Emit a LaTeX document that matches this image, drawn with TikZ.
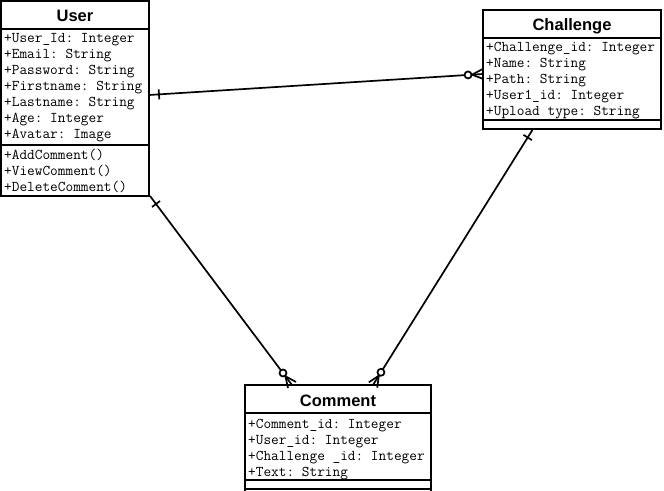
\documentclass[tikz,border=0pt]{standalone}
\usepackage{fontspec}
\newfontfamily\titlefont{Liberation Sans}
\usetikzlibrary{calc}
\frenchspacing
\newcommand\barend[2]{%
  \coordinate (tmpq) at ($(#1)!10bp!(#2)$);
  \draw[conn] ($(tmpq)!5bp!90:(#2)$) -- ($(tmpq)!5bp!-90:(#2)$);}
\newcommand\crowend[2]{%
  \coordinate (tmpp) at ($(#1)!11bp!(#2)$);
  \draw[conn] ($(#1)!5bp!90:(#2)$) -- (tmpp) -- ($(#1)!5bp!-90:(#2)$);
  \draw[conn, fill=white] ($(#1)!15bp!(#2)$) circle[radius=3.5bp];}
\begin{document}
\begin{tikzpicture}[x=1bp,y=-1bp,
  box/.style={draw, line width=2bp, rectangle, inner sep=0, outer sep=0, anchor=north west},
  attr/.style={anchor=base west, inner sep=0, font=\ttfamily\frenchspacing\fontsize{14.9bp}{16bp}\selectfont},
  ttl/.style={anchor=base, inner sep=0, font=\titlefont\bfseries\fontsize{16.5bp}{18bp}\selectfont},
  conn/.style={line width=1.7bp},
]
\useasboundingbox[fill=white] (0,0) rectangle (664,491);

% ---- User
\node[box, minimum width=148bp, minimum height=28bp] (usert) at (1,1) {};
\node[box, minimum width=148bp, minimum height=116bp] (usera) at (1,29) {};
\node[box, minimum width=148bp, minimum height=51bp] (userm) at (1,145) {};
\node[ttl] (utitle) at (75,22) {User};
\node[attr] (u1) at (4,43) {+User\_Id: Integer};
\node[attr] (u2) at (4,59) {+Email: String};
\node[attr] (u3) at (4,75) {+Password: String};
\node[attr] (u4) at (4,91) {+Firstname: String};
\node[attr] (u5) at (4,107) {+Lastname: String};
\node[attr] (u6) at (4,123) {+Age: Integer};
\node[attr] (u7) at (4,139) {+Avatar: Image};
\node[attr] (um1) at (4,160) {+AddComment()};
\node[attr] (um2) at (4,176) {+ViewComment()};
\node[attr] (um3) at (4,192) {+DeleteComment()};

% ---- Challenge
\node[box, minimum width=178bp, minimum height=28bp] (chalt) at (483,10) {};
\node[box, minimum width=178bp, minimum height=82bp] (chala) at (483,38) {};
\node[box, minimum width=178bp, minimum height=9bp] (chalm) at (483,120) {};
\node[ttl] (ctitle) at (572,31) {Challenge};
\node[attr] (c1) at (486,52) {+Challenge\_id: Integer};
\node[attr] (c2) at (486,68) {+Name: String};
\node[attr] (c3) at (486,84) {+Path: String};
\node[attr] (c4) at (486,100) {+User1\_id: Integer};
\node[attr] (c5) at (486,116) {+Upload type: String};

% ---- Comment
\node[box, minimum width=186bp, minimum height=28bp] (comt) at (245,385) {};
\node[box, minimum width=186bp, minimum height=95bp] (coma) at (245,413) {};
\node[box, minimum width=186bp, minimum height=9bp] (comm) at (245,480) {};
\node[ttl] (mtitle) at (338,406) {Comment};
\node[attr] (m1) at (248,428) {+Comment\_id: Integer};
\node[attr] (m2) at (248,444) {+User\_id: Integer};
\node[attr] (m3) at (248,460) {+Challenge \_id: Integer};
\node[attr] (m4) at (248,476) {+Text: String};

% ---- connectors
\coordinate (uR) at (149,95);
\coordinate (cL) at (483,74);
\coordinate (uB) at (150,196);
\coordinate (mTL) at (292,385);
\coordinate (cB) at (533,129);
\coordinate (mTR) at (373,385);

\draw[conn] (uR) -- (cL);
\barend{uR}{cL}
\crowend{cL}{uR}

\draw[conn] (uB) -- (mTL);
\barend{uB}{mTL}
\crowend{mTL}{uB}

\draw[conn] (cB) -- (mTR);
\barend{cB}{mTR}
\crowend{mTR}{cB}
\end{tikzpicture}
\end{document}
